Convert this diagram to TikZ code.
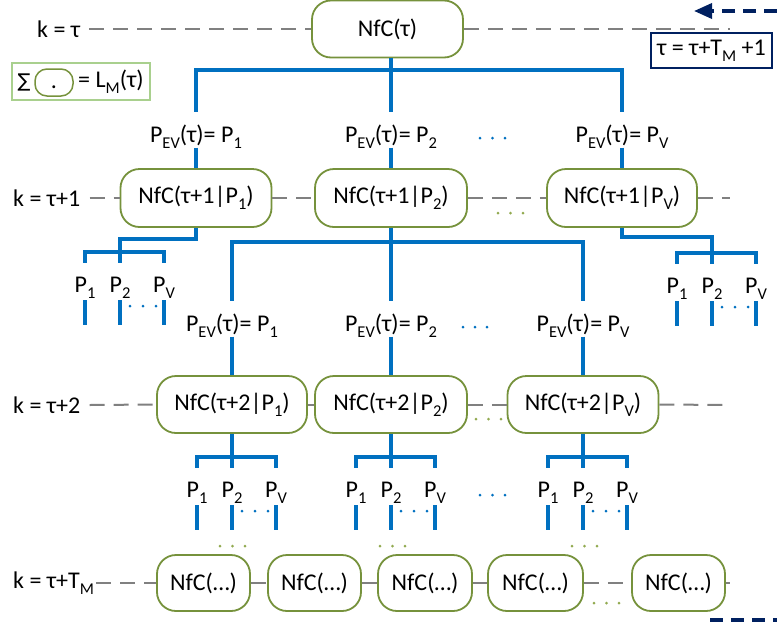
\documentclass[tikz,border=0pt]{standalone}
\usepackage{fontspec}
\setmainfont{Carlito}
\newfontfamily\djv{DejaVu Sans}
\usetikzlibrary{arrows.meta}
\definecolor{boxgreen}{RGB}{118,146,60}
\definecolor{legendgreen}{RGB}{169,208,142}
\definecolor{treeblue}{RGB}{0,112,192}
\definecolor{navy}{RGB}{0,32,96}
\definecolor{kgray}{RGB}{128,128,128}
\definecolor{dotgreen}{RGB}{146,170,80}
\newcommand\lo[1]{\raisebox{-0.25em}{\fontsize{16.5}{17}\selectfont #1}}
\newcommand\leafgroup[3]{%
  \coordinate (#1bar) at (#2,#3);
  \node[leaf] (#1p1) at ([shift={(-35,40)}]#1bar) {P\lo{1}};
  \node[leaf] (#1p2) at ([shift={(0,40)}]#1bar) {P\lo{2}};
  \node[leaf] (#1pv) at ([shift={(44,40)}]#1bar) {P\lo{V}};
  \draw[tree] (#1p1.north) -- (#1p1.north |- #1bar) -- (#1pv.north |- #1bar) -- (#1pv.north);
  \draw[tree] (#1bar) -- (#1p2.north);
  \draw[tree] (#1p1.south) -- ++(0,25);
  \draw[tree] (#1p2.south) -- ++(0,25);
  \draw[tree] (#1pv.south) -- ++(0,25);
  \foreach \d in {10,23,36} \fill[bdot] ([shift={(\d,54)}]#1bar) circle (1.5pt);
}
\begin{document}
\begin{tikzpicture}[x=1pt,y=-1pt,font=\fontsize{24}{28}\selectfont,
  nfc/.style={draw=boxgreen,line width=1.8pt,rounded corners=19pt,fill=white,inner sep=0pt,minimum height=57pt},
  tree/.style={draw=treeblue,line width=4pt},
  kline/.style={draw=kgray,line width=2pt,dash pattern=on 15pt off 9pt},
  pev/.style={inner sep=0pt,text height=30pt,text depth=5.5pt,anchor=base},
  leaf/.style={inner sep=0pt,text height=29pt,text depth=8pt,anchor=base},
  klab/.style={inner sep=0pt,anchor=west},
  gdot/.style={fill=dotgreen},
  bdot/.style={fill=treeblue},
  navyline/.style={draw=navy,line width=3.5pt,dash pattern=on 13pt off 8pt}]
\useasboundingbox (0,0) rectangle (777,622);

% ---------- row 0 ----------
\node[nfc,minimum width=151pt] (t0) at (387.5,29) {NfC(τ)};
\node[klab] (k0) at (37,29) {k = τ};
\coordinate (e0) at (730,29);
\draw[kline] ([xshift=9pt]k0.east) -- (t0.west);
\draw[kline] (t0.east) -- (e0);

% legend
\node[draw=legendgreen,line width=2pt,minimum width=138pt,minimum height=37pt,inner sep=0pt] (leg) at (81,81.5) {};
\node[inner sep=0pt] (sig) at (24,82) {\djv\fontsize{19}{20}\selectfont ∑};
\node[draw=boxgreen,line width=1.5pt,rounded corners=12pt,minimum width=38pt,minimum height=27pt,inner sep=0pt,text height=11pt,text depth=0pt] (lbox) at (54,82.5) {.};
\node[klab] (lm) at (78,82) {= L\lo{M}(τ)};

% update box and navy arrows
\node[draw=navy,line width=1.8pt,minimum width=121pt,minimum height=35pt,inner sep=0pt] (upd) at (711.5,50.5) {τ = τ+T\lo{M} +1};
\coordinate (a0) at (777,11);
\coordinate (a1) at (694,11);
\draw[navyline,-{Triangle[length=18pt,width=15pt]}] (a0) -- (a1);
\coordinate (c0) at (710,620);
\coordinate (c1) at (777,620);
\draw[navyline] (c0) -- (c1);

% ---------- level 1 ----------
\node[pev] (l1a) at (196,142) {P\lo{EV}(τ)= P\lo{1}};
\node[pev] (l1b) at (391,142) {P\lo{EV}(τ)= P\lo{2}};
\node[pev] (l1c) at (622,142) {P\lo{EV}(τ)= P\lo{V}};
\coordinate (j0) at (391,70);
\draw[tree] (t0.south -| j0) -- (j0);
\draw[tree] (l1a.north) -- (l1a.north |- j0) -- (l1c.north |- j0) -- (l1c.north);
\draw[tree] (j0) -- (l1b.north);
\foreach \x in {480,492.5,505} \fill[bdot] (\x,138) circle (1.5pt);

\node[nfc,minimum width=151pt,minimum height=58pt] (b11) at (196,198) {NfC(τ+1|P\lo{1})};
\node[nfc,minimum width=152pt,minimum height=58pt] (b12) at (391,198) {NfC(τ+1|P\lo{2})};
\node[nfc,minimum width=150pt,minimum height=58pt] (b13) at (622,198) {NfC(τ+1|P\lo{V})};
\draw[tree] (l1a.south) -- (b11.north);
\draw[tree] (l1b.south) -- (b12.north);
\draw[tree] (l1c.south) -- (b13.north);

\node[klab] (k1) at (13,198) {k = τ+1};
\coordinate (e1) at (730,198);
\draw[kline] ([xshift=9pt]k1.east) -- (b11.west);
\draw[kline] (b11.east) -- (b12.west);
\draw[kline] (b12.east) -- (b13.west);
\draw[kline] (b13.east) -- (e1);
\foreach \x in {498,510.5,523} \fill[gdot] (\x,213) circle (1.5pt);

\leafgroup{gA}{120}{252}
\draw[tree] (b11.south) -- ++(0,11) -| (gAbar);
\leafgroup{gB}{712}{253}
\draw[tree] (b13.south) -- ++(0,9) -| (gBbar);

% ---------- level 2 ----------
\coordinate (j1) at (391,242);
\draw[tree] (b12.south) -- (j1);
\node[pev] (l2a) at (232,331) {P\lo{EV}(τ)= P\lo{1}};
\node[pev] (l2b) at (391,331) {P\lo{EV}(τ)= P\lo{2}};
\node[pev] (l2c) at (583,331) {P\lo{EV}(τ)= P\lo{V}};
\draw[tree] (l2a.north) -- (l2a.north |- j1) -- (l2c.north |- j1) -- (l2c.north);
\draw[tree] (j1) -- (l2b.north);
\foreach \x in {463,475,487} \fill[bdot] (\x,327) circle (1.5pt);

\node[nfc,minimum width=150pt] (b21) at (232,404.5) {NfC(τ+2|P\lo{1})};
\node[nfc,minimum width=152pt] (b22) at (391,404.5) {NfC(τ+2|P\lo{2})};
\node[nfc,minimum width=151pt] (b23) at (583,404.5) {NfC(τ+2|P\lo{V})};
\draw[tree] (l2a.south) -- (b21.north);
\draw[tree] (l2b.south) -- (b22.north);
\draw[tree] (l2c.south) -- (b23.north);

\node[klab] (k2) at (13,405) {k = τ+2};
\coordinate (e2) at (730,405);
\draw[kline] ([xshift=9pt]k2.east) -- (b21.west);
\draw[kline] (b21.east) -- (b22.west);
\draw[kline] (b22.east) -- (b23.west);
\draw[kline] (b23.east) -- (e2);
\foreach \x in {476,488.5,501} \fill[gdot] (\x,419) circle (1.5pt);

\leafgroup{gC}{232}{457}
\draw[tree] (b21.south) -- (gCbar);
\leafgroup{gD}{391}{457}
\draw[tree] (b22.south) -- (gDbar);
\leafgroup{gE}{583}{457}
\draw[tree] (b23.south) -- (gEbar);
\foreach \x in {480,492.5,505} \fill[bdot] (\x,495) circle (1.5pt);

\foreach \x in {220,232.5,245,380,392.5,405,572,584.5,597} \fill[gdot] (\x,546) circle (1.5pt);

% ---------- level T_M ----------
\node[nfc,minimum width=93pt,minimum height=56pt] (b31) at (203.5,583) {NfC(…)};
\node[nfc,minimum width=93pt,minimum height=56pt] (b32) at (314.5,583) {NfC(…)};
\node[nfc,minimum width=94pt,minimum height=56pt] (b33) at (425,583) {NfC(…)};
\node[nfc,minimum width=95pt,minimum height=56pt] (b34) at (535.5,583) {NfC(…)};
\node[nfc,minimum width=93pt,minimum height=56pt] (b35) at (678.5,583) {NfC(…)};

\node[klab] (k3) at (13,583) {k = τ+T\lo{M}};
\coordinate (e3) at (730,583);
\draw[kline] ([xshift=2pt]k3.east) -- (b31.west);
\draw[kline] (b31.east) -- (b32.west);
\draw[kline] (b32.east) -- (b33.west);
\draw[kline] (b33.east) -- (b34.west);
\draw[kline] (b34.east) -- (b35.west);
\draw[kline] (b35.east) -- (e3);
\foreach \x in {594,606.5,619} \fill[gdot] (\x,603) circle (1.5pt);
\end{tikzpicture}
\end{document}
